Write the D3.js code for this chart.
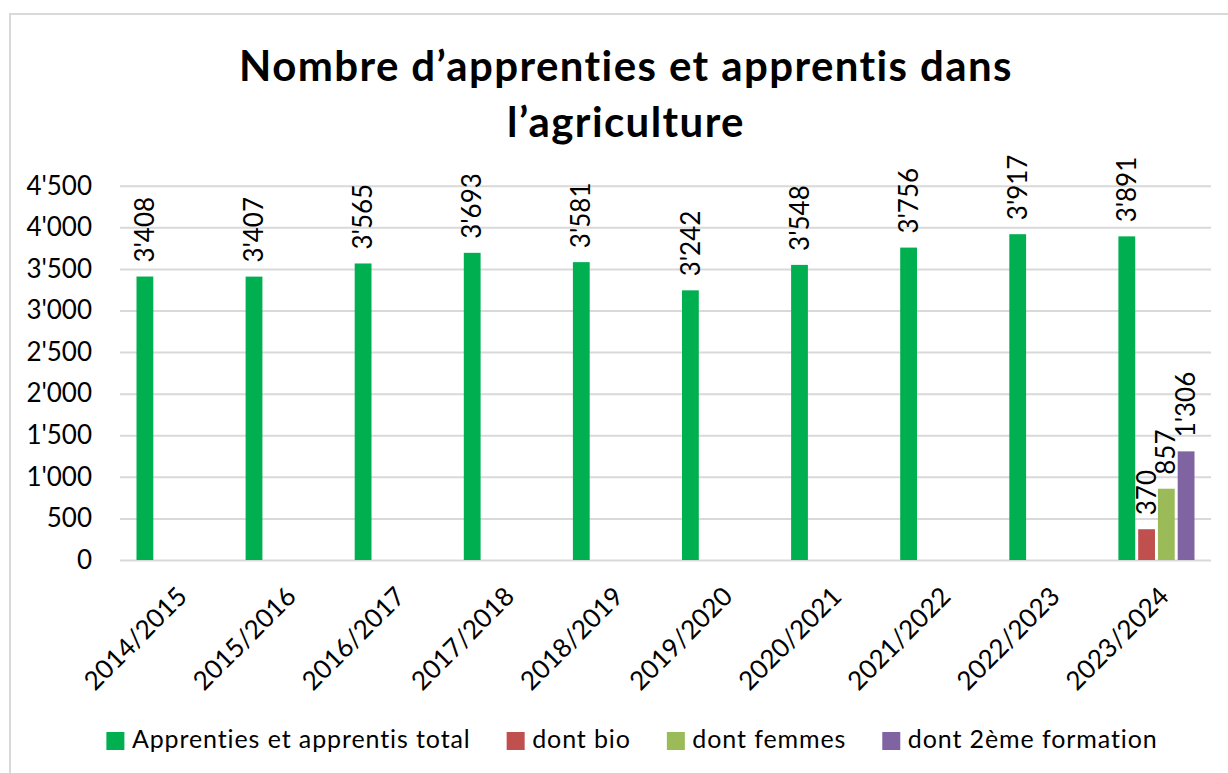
<!DOCTYPE html>
<html><head><meta charset="utf-8">
<script src="https://cdn.jsdelivr.net/npm/d3@7"></script>
<style>body{margin:0;background:#fff}svg{display:block;font-family:Lato,"Open Sans",sans-serif}</style>
</head><body><svg id="c" width="1228" height="773"></svg>
<script>
const categories = ["2014/2015","2015/2016","2016/2017","2017/2018","2018/2019","2019/2020","2020/2021","2021/2022","2022/2023","2023/2024"];
const seriesNames = ["Apprenties et apprentis total","dont bio","dont femmes","dont 2ème formation"];
const seriesColors = ["#00B050","#C0504D","#9BBB59","#8064A2"];
const totalValues = [3408,3407,3565,3693,3581,3242,3548,3756,3917,3891];
const bioValues = [null,null,null,null,null,null,null,null,null,370];
const femmesValues = [null,null,null,null,null,null,null,null,null,857];
const deuxiemeValues = [null,null,null,null,null,null,null,null,null,1306];
const yTicks = [0,500,1000,1500,2000,2500,3000,3500,4000,4500];
const titleLines = ["Nombre d\u2019apprenties et apprentis dans","l\u2019agriculture"];

const allSeries = [totalValues,bioValues,femmesValues,deuxiemeValues];
const fmt = d3.formatLocale({decimal:".",thousands:"'",grouping:[3],currency:["",""]}).format(",d");

const svg = d3.select("#c");
svg.append("rect").attr("x",10).attr("y",14).attr("width",1240).attr("height",800)
  .attr("fill","#fff").attr("stroke","#d9d9d9").attr("stroke-width",2);

const pL=120,pR=1211,pT=185.7,pB=560;
const x = d3.scaleBand().domain(categories).range([pL,pR]).paddingInner(0).paddingOuter(0);
const xs = d3.scaleBand().domain(d3.range(4)).range([16.5, x.bandwidth()-16.5]).paddingInner(0.15).paddingOuter(0);
const y = d3.scaleLinear().domain([0,4500]).range([pB,pT]);

// title
svg.append("g").selectAll("text").data(titleLines).join("text")
  .attr("x",626).attr("y",(d,i)=>81+i*56).attr("text-anchor","middle")
  .attr("font-weight","bold").attr("font-size",42).attr("letter-spacing",1.4).attr("fill","#000").text(d=>d);

// grid
const yAxis = d3.axisLeft(y).tickValues(yTicks).tickSize(-(pR-pL)).tickFormat(fmt).tickPadding(28);
const gy = svg.append("g").attr("transform",`translate(${pL},0)`).call(yAxis);
gy.select(".domain").remove();
gy.selectAll(".tick line").attr("stroke","#d9d9d9").attr("stroke-width",2);
gy.selectAll(".tick text").attr("font-size",26).attr("fill","#000").attr("font-family","Lato");

// x labels
const xAxis = d3.axisBottom(x).tickSize(0).tickPadding(0);
const gx = svg.append("g").attr("transform",`translate(0,${pB})`).call(xAxis);
gx.select(".domain").remove();
gx.selectAll(".tick text").attr("font-size",26).attr("fill","#000").attr("font-family","Lato")
  .attr("text-anchor","end").attr("dy",0).attr("y",0)
  .attr("transform","translate(14,38) rotate(-45)");

// bars
const groups = svg.append("g").selectAll("g").data(allSeries).join("g")
  .attr("fill",(d,i)=>seriesColors[i]);
groups.each(function(vals,si){
  const g = d3.select(this);
  const data = vals.map((v,ci)=>({v,c:categories[ci]})).filter(d=>d.v!=null);
  g.selectAll("rect").data(data).join("rect")
    .attr("x",d=>x(d.c)+xs(si)).attr("width",xs.bandwidth())
    .attr("y",d=>y(d.v)).attr("height",d=>y(0)-y(d.v));
  g.selectAll("text").data(data).join("text")
    .attr("transform",d=>`translate(${x(d.c)+xs(si)+xs.bandwidth()/2},${y(d.v)-14}) rotate(-90)`)
    .attr("dy","0.35em").attr("font-size",26).attr("fill","#000").text(d=>fmt(d.v));
});

// legend
const lg = svg.append("g");
let cx = 0;
const gap = 36;
seriesNames.forEach((n,i)=>{
  const it = lg.append("g");
  it.append("rect").attr("x",0).attr("y",-16).attr("width",18).attr("height",18).attr("fill",seriesColors[i]);
  const t = it.append("text").attr("x",25.5).attr("y",0).attr("font-size",25).attr("letter-spacing",0.9).attr("fill","#000").text(n);
  const w = 25.5 + t.node().getComputedTextLength();
  it.attr("transform",`translate(${cx},0)`);
  cx += w + gap;
});
const total = cx - gap;
lg.attr("transform",`translate(${632-total/2},748)`);
</script></body></html>
